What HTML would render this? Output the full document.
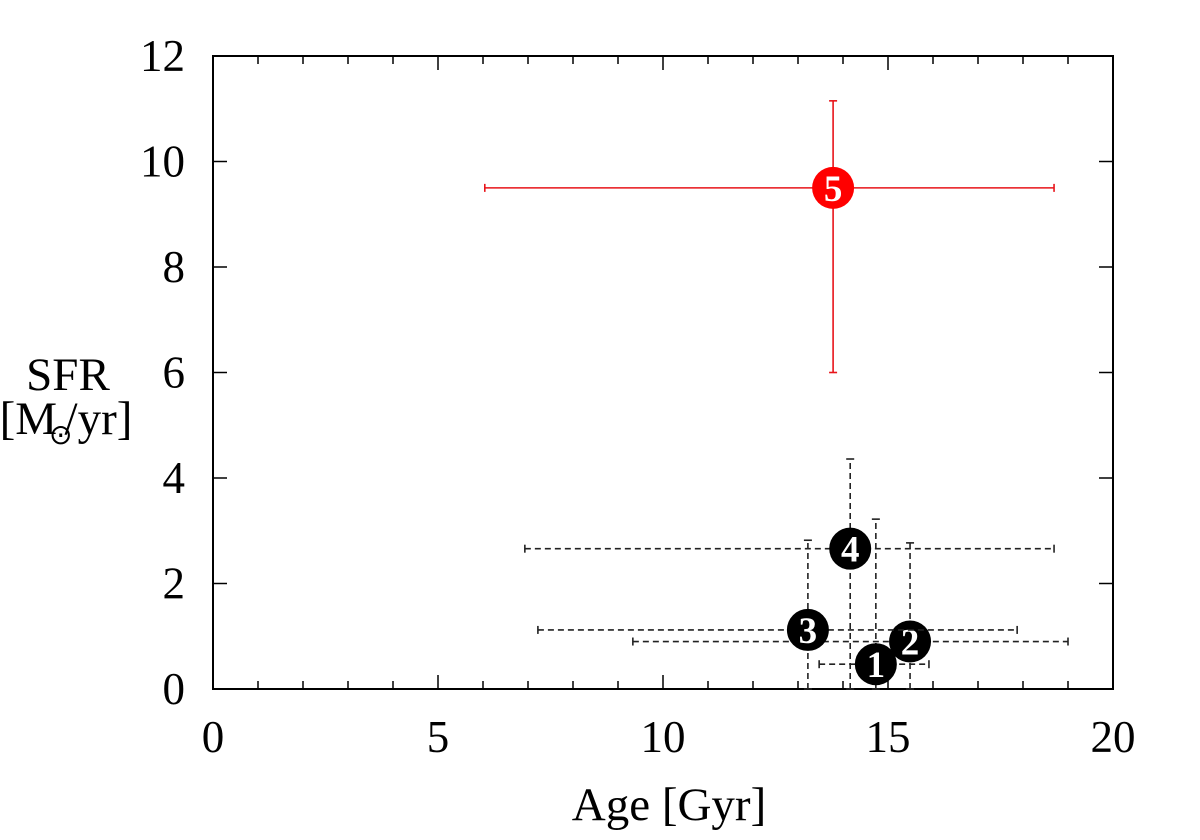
<!DOCTYPE html>
<html><head><meta charset="utf-8"><style>
html,body{margin:0;padding:0;background:#fff;}
svg{display:block;font-family:"Liberation Serif",serif;}
</style></head><body>
<svg id="chart" width="1200" height="840" viewBox="0 0 1200 840">
<rect x="0" y="0" width="1200" height="840" fill="#fff"/>
<g id="grid"></g>
<g id="marks"></g>
<text x="669" y="820" font-size="47" text-anchor="middle">Age [Gyr]</text>
<text x="68" y="390" font-size="47" text-anchor="middle">SFR</text>
<text x="66" y="434" font-size="47" text-anchor="middle">[M<tspan font-size="28" dy="10" dx="-8">⊙</tspan><tspan dy="-10" dx="-8">/yr]</tspan></text>
</svg>
<script>
const labels=["1","2","3","4","5"];
const ages=[14.73,15.49,13.22,14.16,13.78];
const ageLo=[13.47,9.33,7.22,6.93,6.04];
const ageHi=[15.91,19.0,17.87,18.69,18.69];
const sfr=[0.47,0.9,1.12,2.66,9.5];
const sfrLo=[0,0,0,0,6.0];
const sfrHi=[3.22,2.77,2.82,4.36,11.15];
const xTicks=[0,5,10,15,20];
const yTicks=[0,2,4,6,8,10,12];

const X0=213,X1=1113,Y0=689,Y1=56;
const sx=v=>X0+(v-0)/20*(X1-X0);
const sy=v=>Y0-(v-0)/12*(Y0-Y1);
const NS="http://www.w3.org/2000/svg";
const g=document.getElementById('grid'),m=document.getElementById('marks');
function el(t,a,p){const e=document.createElementNS(NS,t);for(const k in a)e.setAttribute(k,a[k]);p.appendChild(e);return e;}

const frame=el('rect',{x:X0,y:Y1,width:X1-X0,height:Y0-Y1,fill:'none',stroke:'#000','stroke-width':2},g);


for(let v=0;v<=20;v++){
  const L=xTicks.includes(v)?14:8;
  el('line',{x1:sx(v),x2:sx(v),y1:Y0,y2:Y0-L,stroke:'#000','stroke-width':1.5},g);
  el('line',{x1:sx(v),x2:sx(v),y1:Y1,y2:Y1+L,stroke:'#000','stroke-width':1.5},g);
}
xTicks.forEach(v=>{
  const t=el('text',{x:sx(v),y:Y0+63,'font-size':45,'text-anchor':'middle'},g);t.textContent=v;
  
  
});
yTicks.forEach(v=>{
  el('line',{x1:X0,x2:X0+14,y1:sy(v),y2:sy(v),stroke:'#000','stroke-width':1.5},g);
  el('line',{x1:X1,x2:X1-14,y1:sy(v),y2:sy(v),stroke:'#000','stroke-width':1.5},g);
  const t=el('text',{x:X0-28,y:sy(v)+15,'font-size':45,'text-anchor':'end'},g);t.textContent=v;
  
  
});
for(let i=0;i<labels.length;i++){
  const red=labels[i]==="5";
  const col=red?'#e8141a':'#222';
  const dash=red?null:'6,4';
  const gr=el('g',{},m);
  
  
  const a={stroke:col,'stroke-width':1.6};if(dash)a['stroke-dasharray']=dash;
  const cx=sx(ages[i]),cy=sy(sfr[i]);
  el('line',Object.assign({x1:sx(ageLo[i]),x2:sx(ageHi[i]),y1:cy,y2:cy},a),gr);
  el('line',Object.assign({x1:cx,x2:cx,y1:sy(sfrLo[i]),y2:sy(sfrHi[i])},a),gr);
  [[sx(ageLo[i]),cy,0],[sx(ageHi[i]),cy,0],[cx,sy(sfrLo[i]),1],[cx,sy(sfrHi[i]),1]].forEach(([x,y,v])=>{
    if(v)el('line',{x1:x-4,x2:x+4,y1:y,y2:y,stroke:col,'stroke-width':1.6},gr);
    else el('line',{x1:x,x2:x,y1:y-4,y2:y+4,stroke:col,'stroke-width':1.6},gr);
  });
  el('circle',{cx:cx,cy:cy,r:21,fill:red?'#ff0000':'#000'},gr);
  const t=el('text',{x:cx,y:cy+13,'font-size':37,'font-weight':'bold','text-anchor':'middle',fill:'#fff'},gr);
  t.textContent=labels[i];
}
</script>
</body></html>
